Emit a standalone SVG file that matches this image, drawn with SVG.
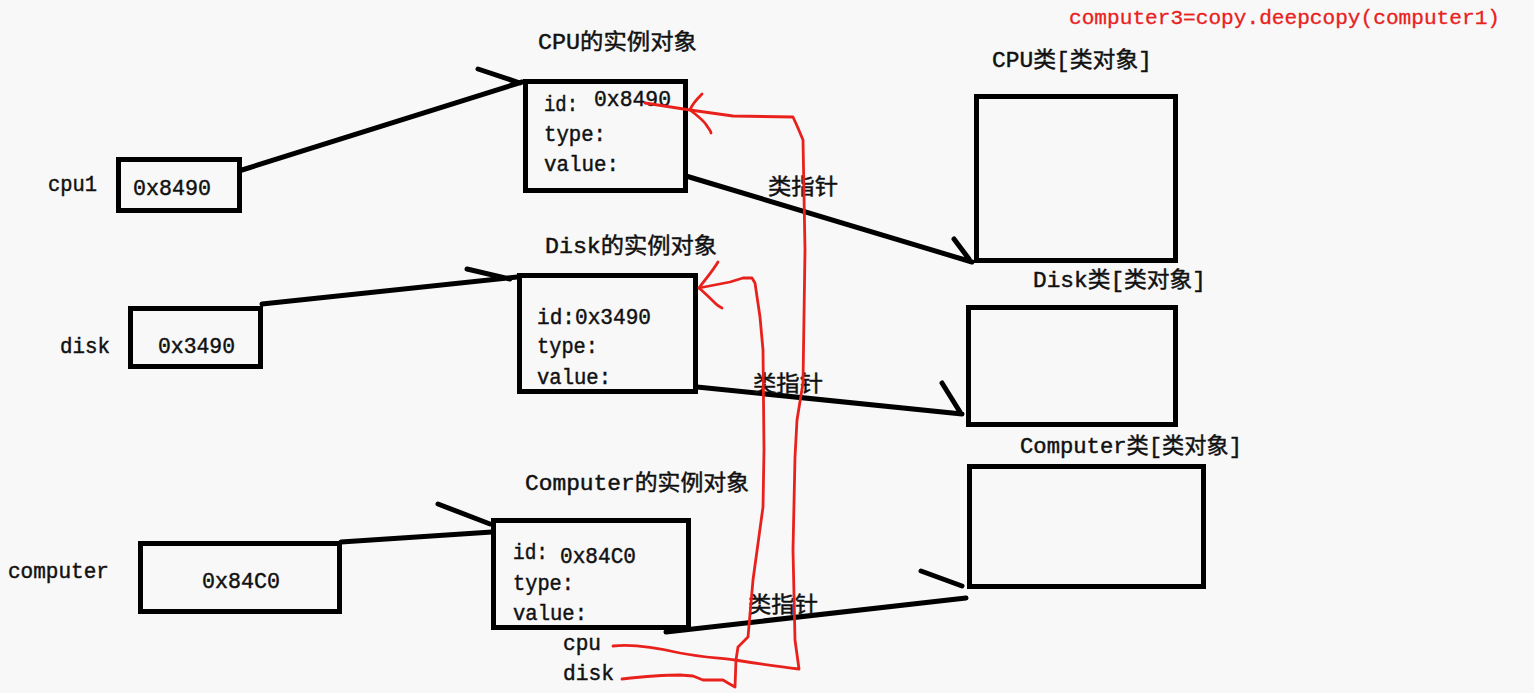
<svg xmlns="http://www.w3.org/2000/svg" width="1534" height="693" viewBox="0 0 1534 693">
<style>
.bg{fill:#f8f8f8}
.box{fill:none;stroke:#000;stroke-width:5}
.ln{fill:none;stroke:#000;stroke-width:5;stroke-linecap:round}
.red{fill:none;stroke:#e8211c;stroke-width:2.8;stroke-linecap:round;stroke-linejoin:round}
text{font-family:"Liberation Mono","Noto Sans CJK SC",monospace;font-size:22px;fill:#111;stroke:#111;stroke-width:0.45}
.cj{font-size:22px}
.rt{fill:#e8211c;stroke:#e8211c;stroke-width:0.3;font-size:20px}
</style>
<rect class="bg" x="0" y="0" width="1534" height="693"/>
<text class="rt" x="1069" y="24" textLength="431" lengthAdjust="spacingAndGlyphs">computer3=copy.deepcopy(computer1)</text>

<g id="cpu1">
<text x="48" y="191" textLength="49" lengthAdjust="spacingAndGlyphs">cpu1</text>
<rect class="box" x="118.5" y="159.5" width="121" height="51"/>
<text x="133" y="195" textLength="78" lengthAdjust="spacingAndGlyphs">0x8490</text>
</g>
<g id="cpu-instance">
<text class="cj" x="538" y="49" textLength="159" lengthAdjust="spacingAndGlyphs">CPU的实例对象</text>
<rect class="box" x="525.5" y="81.5" width="160" height="109"/>
<text x="544" y="111" textLength="34" lengthAdjust="spacingAndGlyphs">id:</text>
<text x="594" y="106" textLength="77" lengthAdjust="spacingAndGlyphs">0x8490</text>
<text x="544" y="141" textLength="62" lengthAdjust="spacingAndGlyphs">type:</text>
<text x="544" y="171" textLength="75" lengthAdjust="spacingAndGlyphs">value:</text>
</g>
<g id="cpu-class">
<text class="cj" x="992" y="67" textLength="160" lengthAdjust="spacingAndGlyphs">CPU类[类对象]</text>
<rect class="box" x="976.5" y="96.5" width="199" height="164"/>
</g>

<g id="disk">
<text x="60" y="353" textLength="50" lengthAdjust="spacingAndGlyphs">disk</text>
<rect class="box" x="130.5" y="308.5" width="130" height="58"/>
<text x="158" y="353" textLength="77" lengthAdjust="spacingAndGlyphs">0x3490</text>
</g>
<g id="disk-instance">
<text class="cj" x="545" y="253" textLength="172" lengthAdjust="spacingAndGlyphs">Disk的实例对象</text>
<rect class="box" x="519.5" y="275.5" width="176" height="116"/>
<text x="537" y="324" textLength="114" lengthAdjust="spacingAndGlyphs">id:0x3490</text>
<text x="537" y="353" textLength="61" lengthAdjust="spacingAndGlyphs">type:</text>
<text x="537" y="384" textLength="74" lengthAdjust="spacingAndGlyphs">value:</text>
</g>
<g id="disk-class">
<text class="cj" x="1033" y="287" textLength="173" lengthAdjust="spacingAndGlyphs">Disk类[类对象]</text>
<rect class="box" x="968.5" y="307.5" width="207" height="117"/>
</g>

<g id="computer">
<text x="8" y="578" textLength="101" lengthAdjust="spacingAndGlyphs">computer</text>
<rect class="box" x="140.5" y="543.5" width="199" height="68"/>
<text x="202" y="588" textLength="78" lengthAdjust="spacingAndGlyphs">0x84C0</text>
</g>
<g id="computer-instance">
<text class="cj" x="525" y="490" textLength="224" lengthAdjust="spacingAndGlyphs">Computer的实例对象</text>
<rect class="box" x="493.5" y="520.5" width="195" height="107"/>
<text x="513" y="559" textLength="35" lengthAdjust="spacingAndGlyphs">id:</text>
<text x="560" y="563" textLength="76" lengthAdjust="spacingAndGlyphs">0x84C0</text>
<text x="513" y="590" textLength="61" lengthAdjust="spacingAndGlyphs">type:</text>
<text x="513" y="620" textLength="74" lengthAdjust="spacingAndGlyphs">value:</text>
<text x="563" y="650" textLength="38" lengthAdjust="spacingAndGlyphs">cpu</text>
<text x="563" y="680" textLength="51" lengthAdjust="spacingAndGlyphs">disk</text>
</g>
<g id="computer-class">
<text class="cj" x="1020" y="453" textLength="222" lengthAdjust="spacingAndGlyphs">Computer类[类对象]</text>
<rect class="box" x="969.5" y="466.5" width="234" height="120"/>
</g>

<g id="connectors">
<path class="ln" d="M242,170 L522,82 M478,69 L520,83"/>
<path class="ln" d="M686,176 L972,262 M954,239 L969,259"/>
<text class="cj" x="768" y="194" textLength="70" lengthAdjust="spacingAndGlyphs">类指针</text>
<path class="ln" d="M262,304 L517,277 M467,269 L510,279"/>
<path class="ln" d="M697,387 L962,414 M942,383 L960,412"/>
<text class="cj" x="753" y="391" textLength="70" lengthAdjust="spacingAndGlyphs">类指针</text>
<path class="ln" d="M341,542 L492,532 M438,504 L490,524"/>
<path class="ln" d="M666,632 L966,598 M921,571 L962,586"/>
<text class="cj" x="748" y="612" textLength="70" lengthAdjust="spacingAndGlyphs">类指针</text>
<path class="red" d="M613,646 C630,644 650,646 680,653 C700,657 720,658 735,660 C760,664 780,667 799,669 L795,640 L793,550 L795,457 L797,420 L803,383 L805,250 L803,140 L798,128 L793,117 L733,116 L690,110 L645,103"/>
<path class="red" d="M702,94 C697,99 692,104 690,110 C698,116 705,122 707,126 C709,129 711,131 711,133"/>
<path class="red" d="M622,679 C640,677 665,675 680,675 L693,676 L703,680 L723,680 L728,683 L735,687 L736,660 L738,647 L748,637 L753,580 L763,507 L764,450 L763,350 L760,317 L755,283 L752,278 L743,278 L730,282 L699,288"/>
<path class="red" d="M718,262 C712,272 704,281 699,288 C706,294 712,300 716,304 C718,306 720,307 722,308"/>
</g>
</svg>
